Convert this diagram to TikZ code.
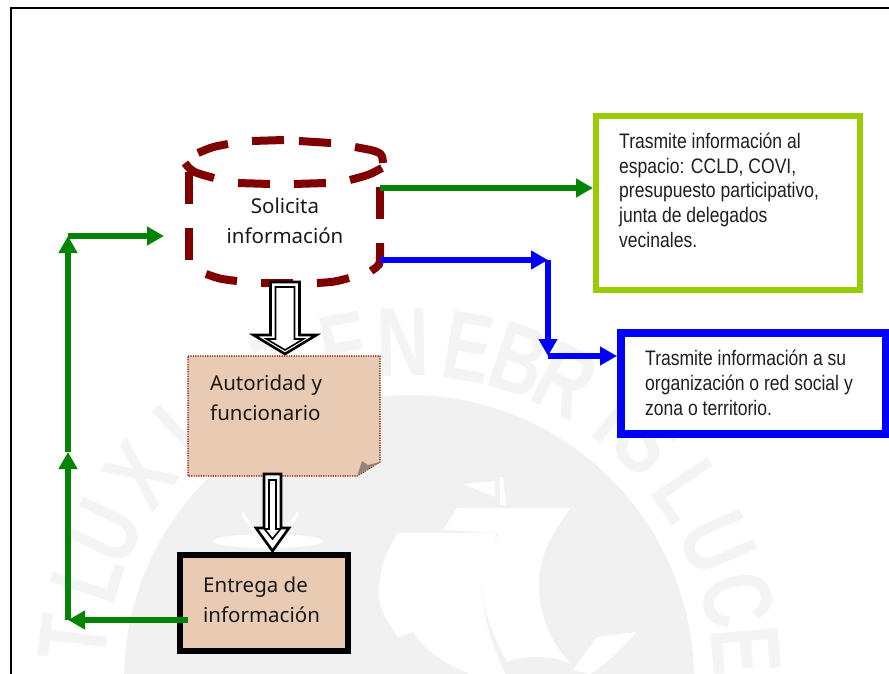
\documentclass[tikz,border=0pt]{standalone}
\usepackage{fontspec}
\setmainfont{Liberation Sans}
\newfontfamily\handfont{Noto Sans}
\newfontfamily\narrowfont[FakeStretch=0.835]{Liberation Sans}
\newfontfamily\wmfont[FakeStretch=0.74]{Liberation Sans Bold}
\usetikzlibrary{arrows.meta,calc}
\definecolor{maroonc}{HTML}{800000}
\definecolor{peach}{HTML}{E9CBB4}
\definecolor{limeb}{HTML}{99CC00}
\definecolor{greenl}{HTML}{058305}
\definecolor{bluel}{HTML}{0000FF}
\definecolor{wmark}{HTML}{F1F1F1}
\definecolor{wmtext}{HTML}{F4F4F4}
\tikzset{
  cyldash/.style={draw=maroonc,line width=8pt},
  handtext/.style={font=\handfont\fontsize{20.5}{29.5}\selectfont,align=left,inner sep=0pt,text=black!90},
  armtext/.style={font=\narrowfont\fontsize{21}{24.6}\selectfont,align=left,inner sep=0pt,text=black!88},
  gline/.style={draw=greenl,line width=6pt,-{Triangle[length=17pt,width=18pt]}},
  bline/.style={draw=bluel,line width=6pt,-{Triangle[length=17pt,width=18pt]}},
  hollowout/.style={draw=black,fill=white,line width=2.6pt,line join=miter},
  hollowin/.style={draw=black,fill=white,line width=1.6pt,line join=miter},
  wmletter/.style={font=\wmfont\fontsize{98}{98}\selectfont,text=wmtext,inner sep=0pt}
}
\begin{document}
\begin{tikzpicture}[x=1pt,y=-1pt]
\useasboundingbox (0,0) rectangle (889,674);
\clip (0,0) rectangle (889,674);
% watermark
\fill[wmark] (409,680) circle[radius=285pt];
\foreach \l/\a in {T/173,L/162,U/154,X/142.6,I/133,N/124,T/112,E/101,N/91,E/80,B/71,R/62.5,I/52,S/45,L/34,U/24,C/13.7,E/5}{
  \node[wmletter,rotate=\a-90] at ({409+338*cos(\a)},{680-338*sin(\a)}) {\l};
}
% ship
\fill[white] (457,508) -- (571,508) .. controls (545,540) and (535,570) .. (540,600) .. controls (544,630) and (558,650) .. (570,663) .. controls (550,655) and (525,655) .. (507,662) .. controls (490,630) and (478,600) .. (484,570) .. controls (487,555) and (492,545) .. (499,533) -- (443,530) -- cycle;
\fill[white] (398,533) -- (497,533) .. controls (485,560) and (480,585) .. (483,600) .. controls (486,630) and (495,650) .. (505,674) -- (470,674) .. controls (445,665) and (425,650) .. (413,632) -- (398,637) .. controls (385,620) and (376,600) .. (379,585) .. controls (381,565) and (388,548) .. (398,533) -- cycle;
\fill[white] (463,484) -- (495,481) -- (495,497) -- cycle;
\fill[white] (500,477) -- (503,477) -- (506,505) -- (500,505) -- cycle;
\fill[white] (597,637) -- (637,632) .. controls (620,650) and (605,665) .. (590,674) -- (573,670) -- cycle;
\fill[white] (268,541) ellipse[x radius=55pt,y radius=7pt];
\draw[white,line width=3pt] (242,513) -- (258,537);
\draw[white,line width=3pt] (298,513) -- (283,537);
% frame
\draw[black,line width=2.4pt] (11,674) -- (11,8) -- (889,8);
% boxes
\node[draw=limeb,line width=6pt,fill=white,minimum width=264pt,minimum height=174pt,outer sep=3pt,inner sep=0pt] (greenbox) at (728,203) {};
\node[draw=bluel,line width=8pt,fill=white,minimum width=265pt,minimum height=101pt,outer sep=4pt,inner sep=0pt] (bluebox) at (753.5,383.5) {};
\node[armtext,anchor=base west] (greentext) at (619,247) {Trasmite información al\\espacio: CCLD, COVI,\\presupuesto participativo,\\junta de delegados\\vecinales.};
\node[armtext,anchor=base west] (bluetext) at (645,415) {Trasmite información a su\\organización o red social y\\zona o territorio.};
% authority note
\node[minimum width=192pt,minimum height=120pt,inner sep=0pt,outer sep=0pt] (auth) at (284,416) {};
\draw[fill=peach,draw=maroonc,line width=1.2pt,dash pattern=on 1.2pt off 1.2pt]
  (auth.north west) -- (auth.north east) -- ($(auth.south east)+(0,-14)$) -- ($(auth.south east)+(-23,0)$) -- (auth.south west) -- cycle;
\fill[fill=black!35!peach] ($(auth.south east)+(-23,0)$) -- ($(auth.south east)+(-18,-15)$) -- ($(auth.south east)+(-12,-11)$) -- ($(auth.south east)+(0,-14)$) -- cycle;
\node[handtext,anchor=base west] (authtext) at (210,420) {Autoridad y\\funcionario};
% delivery box
\node[draw=black,line width=6pt,fill=peach,minimum width=168pt,minimum height=96pt,outer sep=3pt,inner sep=0pt] (deliver) at (264,603) {};
\node[handtext,anchor=base west] (delivertext) at (203,622) {Entrega de\\información};
% cylinder
\node[minimum width=191pt,minimum height=122pt,inner sep=0pt,outer sep=0pt] (cyl) at (284.5,222) {};
\node[handtext,align=center,anchor=base] (cyltext) at (285,243) {Solicita\\información};
\draw[cyldash] (198,153) .. controls (212,147) .. (228,144);
\draw[cyldash] (252,141) .. controls (268,140) .. (284,140);
\draw[cyldash] (299,141) .. controls (315,141.5) .. (331,143);
\draw[cyldash] (355,147) .. controls (382,152) .. (383,163);
\draw[cyldash] (382,168) .. controls (369,175) .. (350,180);
\draw[cyldash] (326,183) .. controls (310,184) .. (294,184);
\draw[cyldash] (270,184) .. controls (254,184) .. (238,183);
\draw[cyldash] (214,178) .. controls (192,172) .. (185,163);
\draw[cyldash] (189,172) -- (189,204);
\draw[cyldash] (189,228) -- (189,260);
\draw[cyldash] (206,274) .. controls (220,279) .. (237,281);
\draw[cyldash] (261,283) -- (293,283);
\draw[cyldash] (317,283) .. controls (334,282) .. (349,278);
\draw[cyldash] (380,187) -- (380,219);
\draw[cyldash] (380,243) -- (380,256) .. controls (380,265) .. (371,271);
% named junctions
\coordinate (cylgreen) at ($(cyl.east)+(0,-34)$);
\coordinate (cylblue) at ($(cyl.east)+(0,38)$);
\coordinate (bluetop) at (548,260);
\coordinate (bluebot) at (548,356);
\coordinate (loopbot) at (68,620);
\coordinate (loopmid) at (68,452);
\coordinate (looptop) at (68,236);
\coordinate (cylleft) at (164,236);
% connectors
\draw[gline] (cylgreen) -- (cylgreen -| greenbox.west);
\draw[bline] (cylblue) -- (bluetop);
\draw[bline] (bluetop) -- (bluebot);
\draw[bline] (bluebot) -- (bluebot -| bluebox.west);
\draw[gline] (loopbot -| deliver.west) ++(11,0) -- (loopbot);
\draw[gline] (loopbot) -- (loopmid);
\draw[gline] (loopmid) -- (looptop);
\draw[gline] (looptop) -- (cylleft);
% hollow arrows
\coordinate (h1) at (285,282);
\draw[hollowout] (h1) ++(-14.5,0) -- ++(29,0) -- ++(0,53) -- ++(17,0) -- ++(-31.5,19) -- ++(-31.5,-19) -- ++(17,0) -- cycle;
\draw[hollowin] (h1) ++(-9.5,5) -- ++(19,0) -- ++(0,52) -- ++(9,0) -- ++(-18.5,11) -- ++(-18.5,-11) -- ++(9,0) -- cycle;
\coordinate (h2) at (272.5,474);
\draw[hollowout] (h2) ++(-8.5,0) -- ++(17,0) -- ++(0,54) -- ++(8,0) -- ++(-16.5,23) -- ++(-16.5,-23) -- ++(8,0) -- cycle;
\draw[hollowin] (h2) ++(-3.5,6) -- ++(7,0) -- ++(0,49) -- ++(4.5,0) -- ++(-8,10) -- ++(-8,-10) -- ++(4.5,0) -- cycle;
\end{tikzpicture}
\end{document}
